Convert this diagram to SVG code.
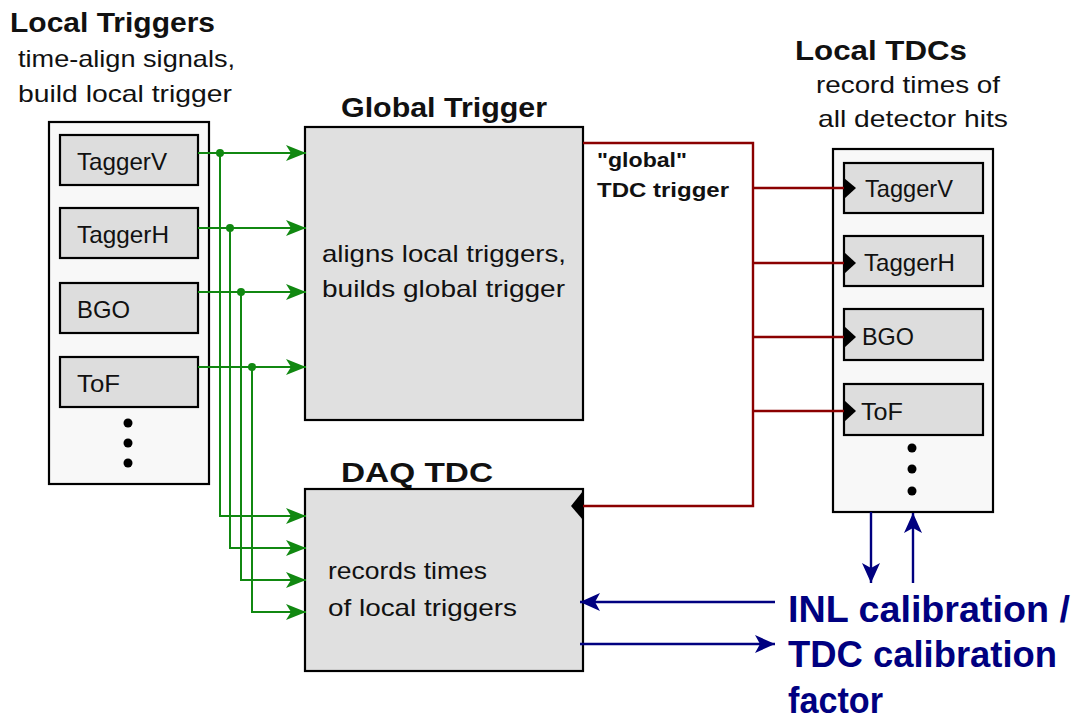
<svg xmlns="http://www.w3.org/2000/svg" width="1078" height="720" viewBox="0 0 1078 720">
<defs>
<style>
.outer{fill:#f8f8f8;stroke:#000;stroke-width:2.2}
.inner{fill:#dddddd;stroke:#000;stroke-width:2.2}
.big{fill:#e0e0e0;stroke:#000;stroke-width:2.2}
text{font-family:"Liberation Sans","DejaVu Sans",sans-serif;fill:#111}
.title{font-size:27px;font-weight:bold}
.desc{font-size:24px}
.lab{font-size:24px}
.gt{font-size:20px;font-weight:bold}
.gl{fill:none;stroke:#118811;stroke-width:2}
.rl{fill:none;stroke:#8b0000;stroke-width:2.4}
.bl{fill:none;stroke:#000080;stroke-width:2.4}
.blue{font-size:36px;font-weight:bold;fill:#000080}
.dot{fill:#000}
.gdot{fill:#118811}
</style>
<marker id="ga" markerWidth="22" markerHeight="18" refX="20" refY="9" orient="auto" markerUnits="userSpaceOnUse"><path d="M0,1 L20,9 L0,17 L5,9 Z" fill="#118811"/></marker>
<marker id="ba" markerWidth="22" markerHeight="20" refX="20" refY="10" orient="auto" markerUnits="userSpaceOnUse"><path d="M0,1 L20,10 L0,19 L5,10 Z" fill="#000080"/></marker>
</defs>

<g id="local-triggers">
<text class="title" x="10" y="32" textLength="205" lengthAdjust="spacingAndGlyphs">Local Triggers</text>
<text class="desc" x="18" y="67" textLength="217" lengthAdjust="spacingAndGlyphs">time-align signals,</text>
<text class="desc" x="18" y="102" textLength="214" lengthAdjust="spacingAndGlyphs">build local trigger</text>
<rect class="outer" x="49" y="122" width="160" height="362"/>
<rect class="inner" x="60" y="135" width="138" height="50"/>
<text class="lab" x="77" y="170" textLength="90" lengthAdjust="spacingAndGlyphs">TaggerV</text>
<rect class="inner" x="60" y="208" width="138" height="50"/>
<text class="lab" x="77" y="243" textLength="92" lengthAdjust="spacingAndGlyphs">TaggerH</text>
<rect class="inner" x="60" y="283" width="138" height="50"/>
<text class="lab" x="77" y="318" textLength="53" lengthAdjust="spacingAndGlyphs">BGO</text>
<rect class="inner" x="60" y="357" width="138" height="50"/>
<text class="lab" x="77" y="392" textLength="43" lengthAdjust="spacingAndGlyphs">ToF</text>
<circle class="dot" cx="128" cy="423" r="4.5"/>
<circle class="dot" cx="128" cy="443" r="4.5"/>
<circle class="dot" cx="128" cy="463" r="4.5"/>
</g>

<g id="global-trigger">
<text class="title" x="341" y="117" textLength="206" lengthAdjust="spacingAndGlyphs">Global Trigger</text>
<rect class="big" x="305" y="127" width="278" height="293"/>
<text class="desc" x="322" y="262" textLength="244" lengthAdjust="spacingAndGlyphs">aligns local triggers,</text>
<text class="desc" x="322" y="297" textLength="243" lengthAdjust="spacingAndGlyphs">builds global trigger</text>
</g>

<g id="daq-tdc">
<text class="title" x="341" y="482" textLength="152" lengthAdjust="spacingAndGlyphs">DAQ TDC</text>
<rect class="big" x="305" y="489" width="278" height="182"/>
<text class="desc" x="328" y="579" textLength="159" lengthAdjust="spacingAndGlyphs">records times</text>
<text class="desc" x="328" y="616" textLength="189" lengthAdjust="spacingAndGlyphs">of local triggers</text>
<path d="M583,491 L571,506 L583,520 Z" fill="#000"/>
</g>

<g id="local-tdcs">
<text class="title" x="795" y="60" textLength="172" lengthAdjust="spacingAndGlyphs">Local TDCs</text>
<text class="desc" x="816" y="93" textLength="184" lengthAdjust="spacingAndGlyphs">record times of</text>
<text class="desc" x="818" y="127" textLength="190" lengthAdjust="spacingAndGlyphs">all detector hits</text>
<rect class="outer" x="833" y="149" width="160" height="363"/>
<rect class="inner" x="844" y="163" width="139" height="50"/>
<text class="lab" x="865" y="197" textLength="88" lengthAdjust="spacingAndGlyphs">TaggerV</text>
<rect class="inner" x="844" y="236" width="139" height="50"/>
<text class="lab" x="864" y="271" textLength="91" lengthAdjust="spacingAndGlyphs">TaggerH</text>
<rect class="inner" x="844" y="309" width="139" height="51"/>
<text class="lab" x="862" y="345" textLength="52" lengthAdjust="spacingAndGlyphs">BGO</text>
<rect class="inner" x="844" y="384" width="139" height="51"/>
<text class="lab" x="861" y="420" textLength="42" lengthAdjust="spacingAndGlyphs">ToF</text>
<path d="M844,178 L856,188 L844,199 Z" fill="#000"/>
<path d="M844,252 L856,263 L844,274 Z" fill="#000"/>
<path d="M844,326 L856,337 L844,348 Z" fill="#000"/>
<path d="M844,400 L856,411 L844,422 Z" fill="#000"/>
<circle class="dot" cx="912" cy="448" r="4.5"/>
<circle class="dot" cx="912" cy="469" r="4.5"/>
<circle class="dot" cx="912" cy="491" r="4.5"/>
</g>

<g id="calibration">
<text class="blue" x="788" y="622" textLength="282" lengthAdjust="spacingAndGlyphs">INL calibration /</text>
<text class="blue" x="788" y="667" textLength="269" lengthAdjust="spacingAndGlyphs">TDC calibration</text>
<text class="blue" x="788" y="713" textLength="95" lengthAdjust="spacingAndGlyphs">factor</text>
</g>

<g id="connectors">
<path class="gl" d="M198,153 H306" marker-end="url(#ga)"/>
<path class="gl" d="M198,228 H306" marker-end="url(#ga)"/>
<path class="gl" d="M198,292 H306" marker-end="url(#ga)"/>
<path class="gl" d="M198,367 H306" marker-end="url(#ga)"/>
<path class="gl" d="M220,153 V516 H306" marker-end="url(#ga)"/>
<path class="gl" d="M230,228 V548 H306" marker-end="url(#ga)"/>
<path class="gl" d="M241,292 V580 H306" marker-end="url(#ga)"/>
<path class="gl" d="M252,367 V612 H306" marker-end="url(#ga)"/>
<circle class="gdot" cx="220" cy="153" r="4"/>
<circle class="gdot" cx="230" cy="228" r="4"/>
<circle class="gdot" cx="241" cy="292" r="4"/>
<circle class="gdot" cx="252" cy="367" r="4"/>
<path class="rl" d="M583,143 H753 V506 H583"/>
<path class="rl" d="M753,188 H844"/>
<path class="rl" d="M753,263 H844"/>
<path class="rl" d="M753,337 H844"/>
<path class="rl" d="M753,411 H844"/>
<text class="gt" x="597" y="167" textLength="90" lengthAdjust="spacingAndGlyphs">"global"</text>
<text class="gt" x="597" y="197" textLength="132" lengthAdjust="spacingAndGlyphs">TDC trigger</text>
<path class="bl" d="M871,512 V583" marker-end="url(#ba)"/>
<path class="bl" d="M913,583 V513" marker-end="url(#ba)"/>
<path class="bl" d="M775,602 H580" marker-end="url(#ba)"/>
<path class="bl" d="M580,644 H775" marker-end="url(#ba)"/>
</g>
</svg>
